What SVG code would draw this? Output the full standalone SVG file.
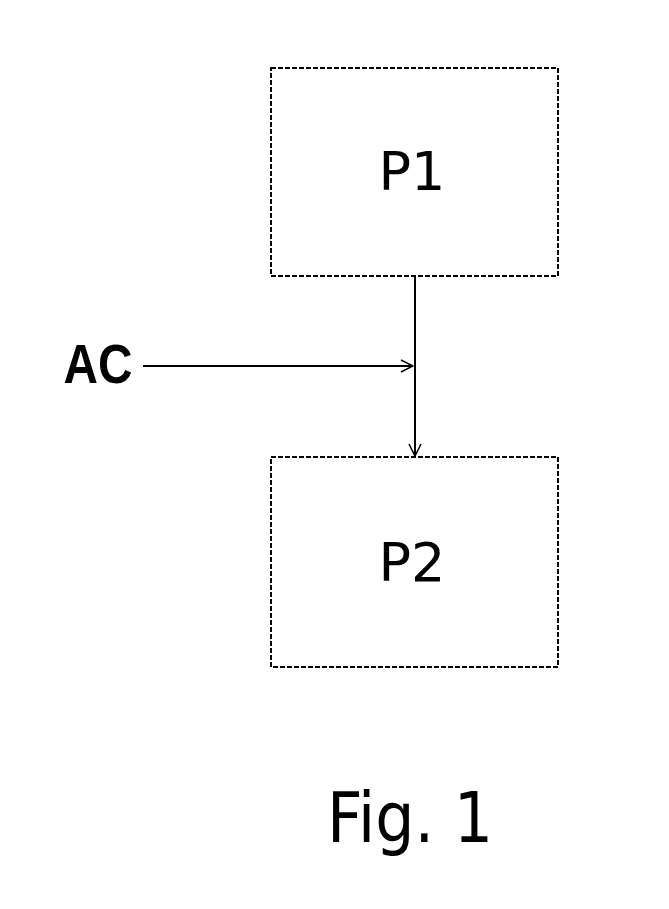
<svg xmlns="http://www.w3.org/2000/svg" width="669" height="909" viewBox="0 0 669 909">
<style>
.box{fill:#fff;stroke:#000;stroke-width:2;stroke-dasharray:5,2}
.lbl{font-family:"DejaVu Sans","Liberation Sans",sans-serif;font-size:54px;fill:#000;text-anchor:middle}
.line{stroke:#000;stroke-width:2;fill:none}
.head{stroke:#000;stroke-width:1.5;fill:none}
</style>
<defs>
<marker id="arr" viewBox="0 0 14 14" refX="13" refY="7" markerWidth="14" markerHeight="14" markerUnits="userSpaceOnUse" orient="auto">
<path class="head" d="M1,1 L13,7 L1,13"/>
</marker>
</defs>
<rect width="669" height="909" fill="#fff"/>
<g id="P1">
<rect class="box" x="271" y="68" width="287" height="208"/>
<text class="lbl" x="412" y="190">P1</text>
</g>
<g id="P2">
<rect class="box" x="271" y="457" width="287" height="210"/>
<text class="lbl" x="412" y="581">P2</text>
</g>
<g id="AC">
<text x="98" y="383" font-family="Liberation Sans, Arial, sans-serif" font-weight="bold" font-size="55" text-anchor="middle" textLength="69" lengthAdjust="spacingAndGlyphs">AC</text>
</g>
<g id="connectors">
<path class="line" d="M415,277 L415,456" marker-end="url(#arr)"/>
<path class="line" d="M143,366 L413,366" marker-end="url(#arr)"/>
</g>
<text x="410" y="842" font-family="DejaVu Sans, sans-serif" font-size="70" text-anchor="middle" textLength="166" lengthAdjust="spacingAndGlyphs">Fig. 1</text>
</svg>
